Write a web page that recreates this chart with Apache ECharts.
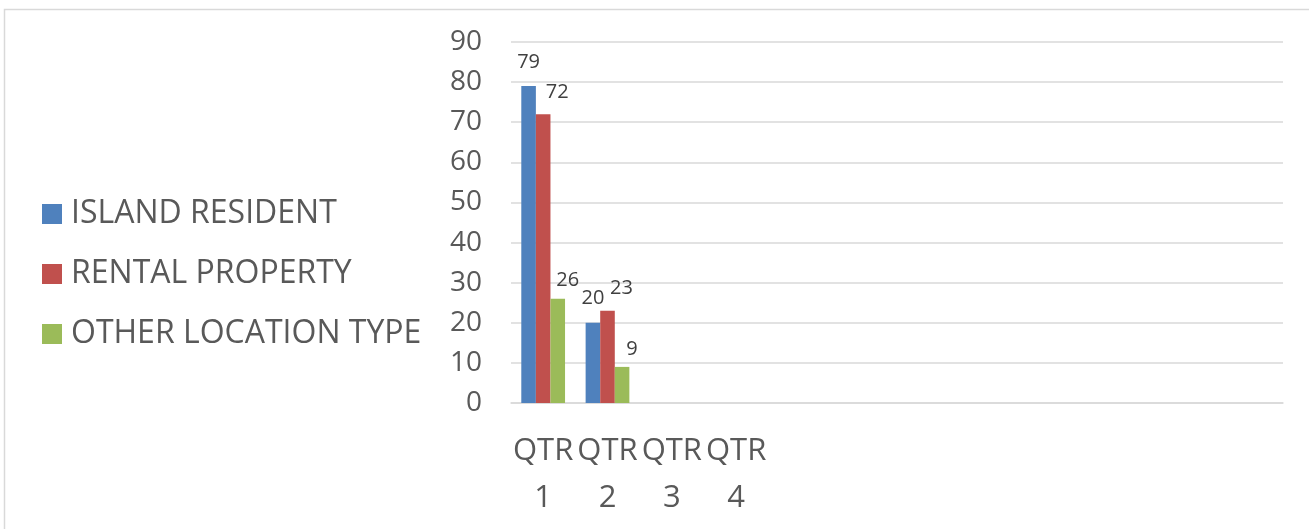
<!DOCTYPE html>
<html>
<head>
<meta charset="utf-8">
<script src="https://cdn.jsdelivr.net/npm/echarts@6/dist/echarts.min.js"></script>
<style>
html,body{margin:0;padding:0;background:#fff;}
#c{width:1309px;height:529px;}
</style>
</head>
<body>
<div id="c"></div>
<script>
var categories = ['QTR 1','QTR 2','QTR 3','QTR 4','','','','','','','',''];
var islandResident = [79, 20];
var rentalProperty = [72, 23];
var otherLocation = [26, 9];
var seriesNames = ['ISLAND RESIDENT','RENTAL PROPERTY','OTHER LOCATION TYPE'];
var yTicks = {min: 0, max: 90, interval: 10};

var FONT = 'Open Sans';
var TXT = '#595959';
var chart = echarts.init(document.getElementById('c'));
function lbl(off, dist) {
  return {show: true, position: 'top', distance: dist, offset: off,
          fontFamily: FONT, fontSize: 20, color: '#404040'};
}
chart.setOption({
  animation: false,
  textStyle: {fontFamily: FONT},
  graphic: [{
    type: 'rect', shape: {x: 4.5, y: 9.5, width: 1320, height: 540},
    style: {fill: 'none', stroke: '#d9d9d9', lineWidth: 1.5}, silent: true, z: -1
  }],
  legend: {
    orient: 'vertical', left: 37, top: 193,
    itemWidth: 20, itemHeight: 20, itemGap: 28, icon: 'rect',
    textStyle: {fontFamily: FONT, fontSize: 32, color: TXT, lineHeight: 32, padding: [0,0,0,4]},
    data: seriesNames
  },
  grid: {left: 511, right: 26, top: 42, bottom: 126, containLabel: false},
  xAxis: {
    type: 'category', data: categories,
    axisLine: {lineStyle: {color: '#d9d9d9', width: 1.5}},
    axisTick: {show: false},
    axisLabel: {interval: 0, margin: 25, fontFamily: FONT, fontSize: 31, lineHeight: 47, color: TXT,
      formatter: function (v) { return v.replace(' ', '\n'); }}
  },
  yAxis: {
    type: 'value', min: yTicks.min, max: yTicks.max, interval: yTicks.interval,
    axisLine: {show: false}, axisTick: {show: false},
    splitLine: {lineStyle: {color: '#d9d9d9', width: 1.5}},
    axisLabel: {margin: 29, fontFamily: FONT, fontSize: 28, color: TXT}
  },
  series: [
    {name: seriesNames[0], type: 'bar', data: islandResident, barGap: '0%', barCategoryGap: '32%',
     itemStyle: {color: '#4F81BD'}, label: lbl([0, 0], 14)},
    {name: seriesNames[1], type: 'bar', data: rentalProperty, barGap: '0%', barCategoryGap: '32%',
     itemStyle: {color: '#C0504D'}, label: lbl([14, 0], 12)},
    {name: seriesNames[2], type: 'bar', data: otherLocation, barGap: '0%', barCategoryGap: '32%',
     itemStyle: {color: '#9BBB59'}, label: lbl([10, 0], 8)}
  ]
});
</script>
</body>
</html>
